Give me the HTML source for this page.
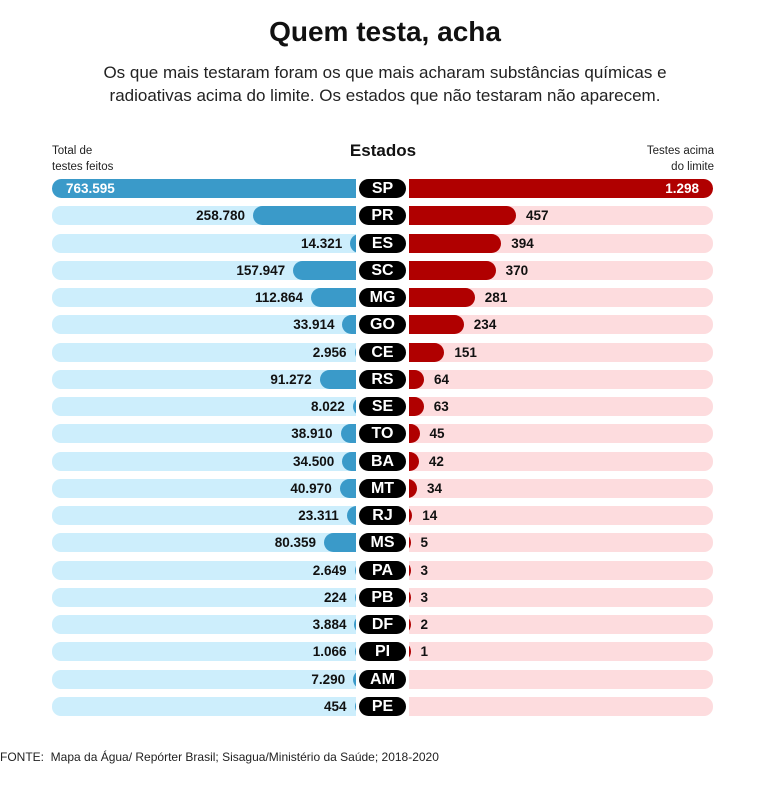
<!DOCTYPE html>
<html><head><meta charset="utf-8"><style>
body{margin:0;width:770px;height:788px;background:#fff;font-family:"Liberation Sans",sans-serif;position:relative;overflow:hidden;color:#111}
.a{position:absolute}
#title{left:0;width:770px;top:16px;text-align:center;font-size:28px;font-weight:bold}
#sub{left:0;width:770px;top:61px;text-align:center;font-size:17px;line-height:23px;color:#222}
.hdr{font-size:11.5px;line-height:16px;color:#222}
.clip{overflow:hidden;height:19px}
.pill{background:#000;color:#fff;font-weight:bold;font-size:16px;text-align:center;line-height:19px;height:19px;width:47px;left:359px;border-radius:10px}
.lab{font-size:13.5px;font-weight:bold;line-height:19px;white-space:nowrap}
</style></head><body>
<div id="title" class="a">Quem testa, acha</div>
<div id="sub" class="a">Os que mais testaram foram os que mais acharam substâncias químicas e<br>radioativas acima do limite. Os estados que não testaram não aparecem.</div>
<div class="a hdr" style="left:52px;top:143px">Total de<br>testes feitos</div>
<div class="a" style="left:340px;width:86px;text-align:center;top:141px;font-size:17px;font-weight:bold">Estados</div>
<div class="a hdr" style="right:56px;top:143px;text-align:right">Testes acima<br>do limite</div>
<div id="chart"></div>
<div class="a" style="left:0;top:750px;font-size:12px;color:#222">FONTE:&nbsp; Mapa da Água/ Repórter Brasil; Sisagua/Ministério da Saúde; 2018-2020</div>
<script>
const states=["SP","PR","ES","SC","MG","GO","CE","RS","SE","TO","BA","MT","RJ","MS","PA","PB","DF","PI","AM","PE"];
const totalTests=[763595,258780,14321,157947,112864,33914,2956,91272,8022,38910,34500,40970,23311,80359,2649,224,3884,1066,7290,454];
const aboveLimit=[1298,457,394,370,281,234,151,64,63,45,42,34,14,5,3,3,2,1,null,null];
const fmt=v=>v.toLocaleString('de-DE');
const chart=document.getElementById('chart');
const L0=52,L1=356,R0=409,R1=713,W=304;
const maxT=Math.max(...totalTests),maxA=Math.max(...aboveLimit.filter(v=>v!=null));
const xl=v=>v/maxT*W, xr=v=>v/maxA*W;
const y=i=>179+i*27.26;
function mk(html){const d=document.createElement('div');d.innerHTML=html;return d.firstChild;}
states.forEach((s,i)=>{
  const top=y(i);
  // left background
  const lb=document.createElement('div');lb.className='a clip';
  
  
  lb.style.cssText=`left:${L0}px;top:${top}px;width:${W}px;background:#cdeefc;border-radius:9px 0 0 9px`;
  const w=Math.max(xl(totalTests[i]),1.5);
  const lbar=document.createElement('div');lbar.className='a';
  
  
  lbar.style.cssText=`left:${W-w}px;top:0;width:${w+20}px;height:19px;background:#3a9ac9;border-radius:9.5px`;
  lb.appendChild(lbar);chart.appendChild(lb);
  const ll=document.createElement('div');ll.className='a lab';
  
  
  ll.textContent=fmt(totalTests[i]);
  if(i===0){ll.style.cssText=`left:${L0+14}px;top:${top}px;color:#fff`;}
  else{ll.style.cssText=`right:${770-(L1-w-8)}px;top:${top}px`;}
  chart.appendChild(ll);
  // pill
  const p=document.createElement('div');p.className='a pill';
  
  
  p.style.top=top+'px';p.textContent=s;chart.appendChild(p);
  // right
  const rb=document.createElement('div');rb.className='a clip';
  
  
  rb.style.cssText=`left:${R0}px;top:${top}px;width:${W}px;background:#fddcde;border-radius:0 9px 9px 0`;
  chart.appendChild(rb);
  const v=aboveLimit[i];
  if(v!=null){
    const rw=Math.max(xr(v),1.5);
    const rbar=document.createElement('div');rbar.className='a';
    
    
    rbar.style.cssText=`left:${rw-rw-20}px;top:0;width:${rw+20}px;height:19px;background:#b00000;border-radius:9.5px`;
    rb.appendChild(rbar);
    const rl=document.createElement('div');rl.className='a lab';
    
    
    rl.textContent=fmt(v);
    if(i===0){rl.style.cssText=`right:${770-R1+14}px;top:${top}px;color:#fff`;}
    else{rl.style.cssText=`left:${R0+rw+10}px;top:${top}px`;}
    chart.appendChild(rl);
  }
});
</script>
</body></html>
